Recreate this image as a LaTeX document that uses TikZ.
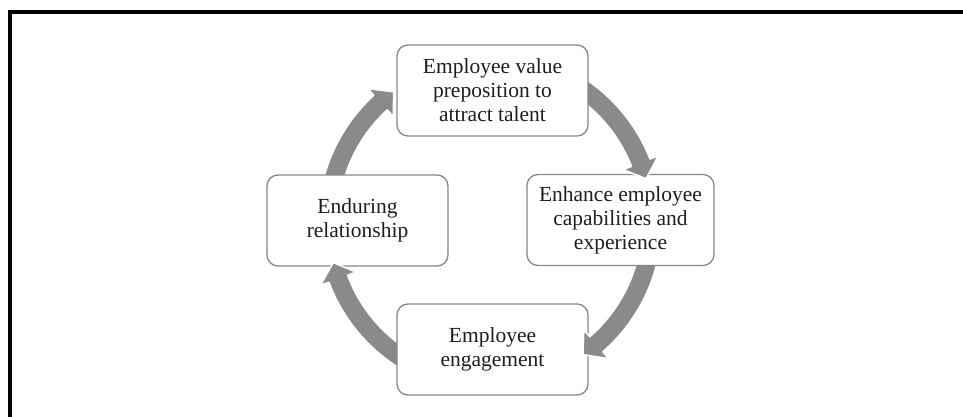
\documentclass[tikz,border=0pt]{standalone}
\usepackage{fontspec}
\setmainfont{Liberation Serif}
\definecolor{arrowgray}{RGB}{138,138,138}
\definecolor{boxline}{RGB}{135,135,135}
\definecolor{ink}{RGB}{30,30,30}

% Curved cycle arrow around the centre (490,195): #1 style, #2 tail angle, #3 tip angle
\newcommand\DrawCycArrow[3]{%
  \path[shift={(490,195)},#1]
    (#2:172) arc[start angle=#2, end angle=#3+6, radius=172]
    -- (#3+6:181) -- (#3:162) -- (#3+6:143) -- (#3+6:152)
    arc[start angle=#3+6, end angle=#2, radius=152] -- cycle;}

\begin{document}
\begin{tikzpicture}[x=1pt,y=1pt,
  stagebox/.style={draw=boxline, line width=1.3pt, fill=white,
    rounded corners=11pt, minimum height=91pt, inner sep=0pt,
    align=center, font=\fontsize{21.5}{24}\selectfont, text=ink},
  cycarrow/.style={fill=arrowgray, draw=white, line width=1.6pt, line join=round}]

\useasboundingbox (0,0) rectangle (963,417);

% frame
\draw[line width=4pt] (10.3,-4) -- (10.3,405) -- (970,405);

% arrows, tails run under the boxes
\DrawCycArrow{cycarrow}{70}{15.5}
\DrawCycArrow{cycarrow}{0}{-55}
\DrawCycArrow{cycarrow}{250}{194.5}
\DrawCycArrow{cycarrow}{180}{126.5}

% stages
\node[stagebox, minimum width=191pt] (value) at (492.5,326.5)
  {Employee value\\preposition to\\attract talent};
\node[stagebox, minimum width=187pt] (enhance) at (620.5,197)
  {Enhance employee\\capabilities and\\experience};
\node[stagebox, minimum width=191pt] (engage) at (492.5,67.5)
  {Employee\\engagement};
\node[stagebox, minimum width=181pt] (endure) at (357.5,196.5)
  {Enduring\\relationship};

% arrow heads lie on top of the box they point into
\begin{scope}
  \clip ([shift={(-5,5)}]enhance.north west) rectangle ([shift={(5,-5)}]enhance.south east);
  \DrawCycArrow{cycarrow}{70}{15.5}
\end{scope}
\begin{scope}
  \clip ([shift={(-5,5)}]engage.north west) rectangle ([shift={(5,-5)}]engage.south east);
  \DrawCycArrow{cycarrow}{0}{-55}
\end{scope}
\begin{scope}
  \clip ([shift={(-5,5)}]endure.north west) rectangle ([shift={(5,-5)}]endure.south east);
  \DrawCycArrow{cycarrow}{250}{194.5}
\end{scope}
\begin{scope}
  \clip ([shift={(-5,5)}]value.north west) rectangle ([shift={(5,-5)}]value.south east);
  \DrawCycArrow{cycarrow}{180}{126.5}
\end{scope}
\end{tikzpicture}
\end{document}
